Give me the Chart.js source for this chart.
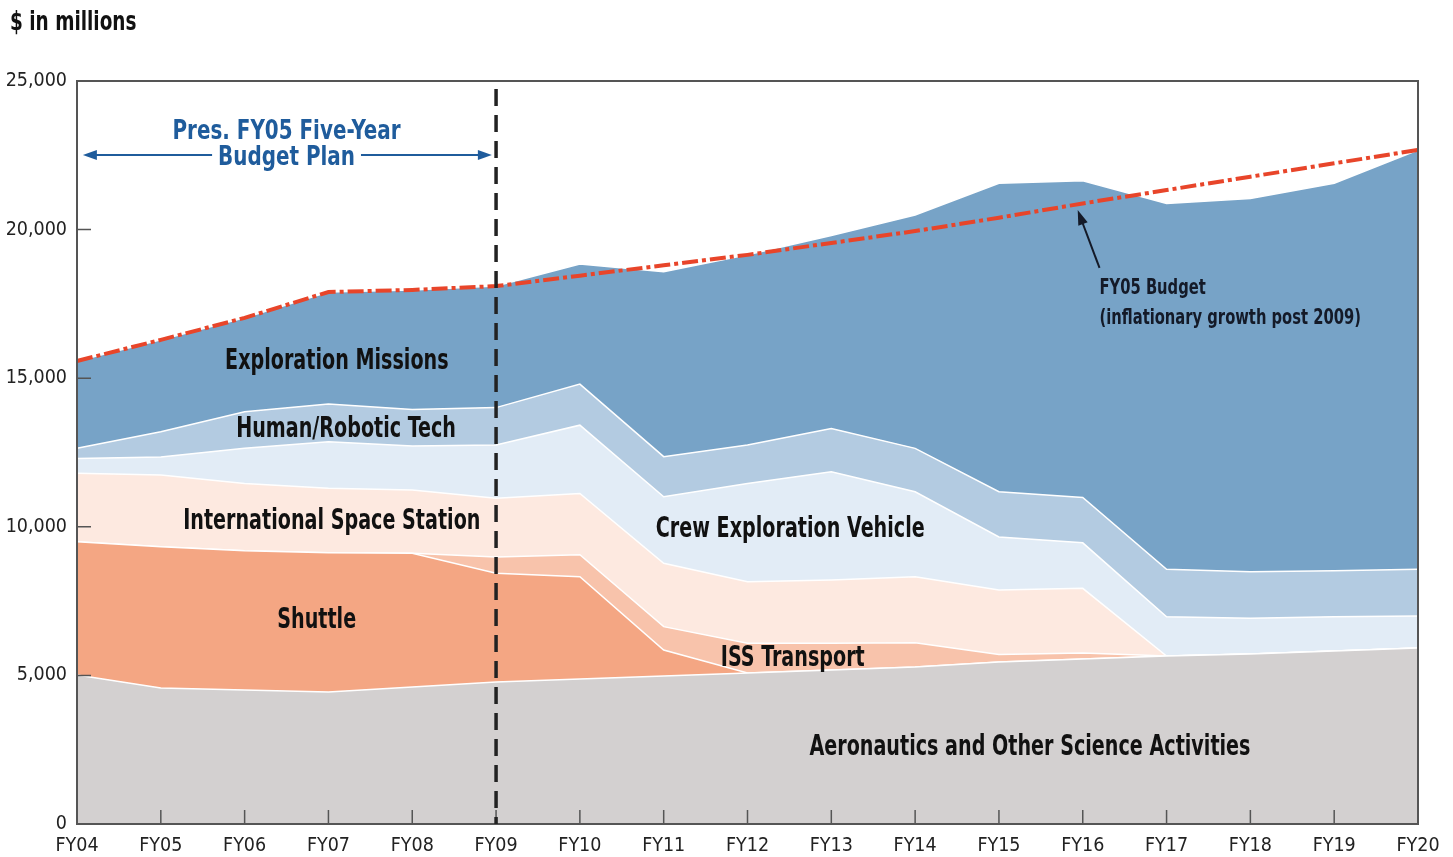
<!DOCTYPE html>
<html>
<head>
<meta charset="utf-8">
<script src="https://cdn.jsdelivr.net/npm/chart.js@4.4.0/dist/chart.umd.min.js"></script>
<style>
  html, body { margin: 0; padding: 0; background: #fff; }
  #wrap { position: relative; width: 1453px; height: 857px; }
</style>
</head>
<body>
<div id="wrap"><canvas id="chart" width="1453" height="857"></canvas></div>
<script>
const years = ['FY04', 'FY05', 'FY06', 'FY07', 'FY08', 'FY09', 'FY10', 'FY11', 'FY12',
  'FY13', 'FY14', 'FY15', 'FY16', 'FY17', 'FY18', 'FY19', 'FY20'];

// stacked layers, bottom to top ($ in millions)
const aeronautics = [5010, 4580, 4510, 4440, 4610, 4780, 4880, 4980, 5080, 5180, 5280, 5450, 5550, 5650, 5720, 5820, 5920];
const shuttle     = [4490, 4750, 4680, 4690, 4500, 3660, 3440, 875, 0, 0, 0, 0, 0, 0, 0, 0, 0];
const issTransport = [0, 0, 0, 0, 0, 540, 740, 785, 1000, 900, 820, 250, 200, 0, 0, 0, 0];
const spaceStation = [2300, 2410, 2270, 2170, 2130, 1980, 2060, 2130, 2070, 2130, 2220, 2170, 2180, 0, 0, 0, 0];
const crewVehicle = [500, 610, 1180, 1560, 1480, 1790, 2300, 2240, 3310, 3640, 2860, 1790, 1530, 1325, 1200, 1155, 1080];
const humanRobotic = [340, 850, 1230, 1270, 1230, 1260, 1380, 1350, 1290, 1460, 1460, 1520, 1530, 1595, 1570, 1545, 1570];
const exploration = [2940, 3090, 3160, 3770, 4020, 4090, 4040, 6220, 6400, 6490, 7850, 10380, 10650, 12310, 12560, 13040, 14110];

// FY05 budget (inflationary growth post 2009)
const fy05Budget = [15580, 16290, 17030, 17900, 17970, 18100, 18450, 18800, 19150, 19550, 19950, 20400, 20880, 21330, 21780, 22230, 22680];

const yTicks = [0, 5000, 10000, 15000, 20000, 25000];

const NARROW = '"Liberation Sans Narrow", "Arial Narrow", "DejaVu Sans Condensed", sans-serif';
Chart.defaults.font.family = NARROW;

function area(label, data, color, fill) {
  return {
    label, data, fill,
    backgroundColor: color,
    borderColor: '#ffffff',
    borderWidth: 1.5,
    pointRadius: 0,
    tension: 0
  };
}

// text labels placed in data space: [text, x index, y value]
const areaLabels = [
  ['Exploration Missions', 3.1, 15560],
  ['Human/Robotic Tech', 3.21, 13270],
  ['International Space Station', 3.04, 10180],
  ['Shuttle', 2.86, 6850],
  ['Crew Exploration Vehicle', 8.51, 9910],
  ['ISS Transport', 8.54, 5570],
  ['Aeronautics and Other Science Activities', 11.37, 2570]
];

// the original face is a condensed grotesque; squeeze the fallback font sideways
function squeeze(ctx, text, x, y, sx) {
  ctx.save();
  ctx.translate(x, y);
  ctx.scale(sx, 1);
  ctx.fillText(text, 0, 0);
  ctx.restore();
}

function arrowHead(ctx, x1, y1, x2, y2, len, half) {
  const ang = Math.atan2(y2 - y1, x2 - x1);
  ctx.beginPath();
  ctx.moveTo(x2, y2);
  ctx.lineTo(x2 - len * Math.cos(ang) + half * Math.sin(ang), y2 - len * Math.sin(ang) - half * Math.cos(ang));
  ctx.lineTo(x2 - len * Math.cos(ang) - half * Math.sin(ang), y2 - len * Math.sin(ang) + half * Math.cos(ang));
  ctx.closePath();
  ctx.fill();
}

const overlay = {
  id: 'overlay',
  afterDatasetsDraw(chart) {
    const { ctx, chartArea: a, scales: { x, y } } = chart;
    const px = i => x.getPixelForValue(i);
    const py = v => y.getPixelForValue(v);
    ctx.save();

    // inner tick marks
    ctx.strokeStyle = '#555';
    ctx.lineWidth = 1.5;
    ctx.beginPath();
    years.forEach((_, i) => {
      if (i > 0 && i < years.length - 1) {
        ctx.moveTo(px(i), a.bottom);
        ctx.lineTo(px(i), a.bottom - 14);
      }
    });
    yTicks.forEach(v => {
      if (v > 0 && v < 25000) {
        ctx.moveTo(a.left, py(v));
        ctx.lineTo(a.left + 14, py(v));
      }
    });
    ctx.stroke();

    // frame
    ctx.lineWidth = 2;
    ctx.strokeRect(a.left, a.top, a.right - a.left, a.bottom - a.top);

    // five-year plan boundary
    ctx.strokeStyle = '#222';
    ctx.lineWidth = 3.5;
    ctx.setLineDash([17, 9]);
    ctx.beginPath();
    ctx.moveTo(px(5), a.top + 8);
    ctx.lineTo(px(5), a.bottom);
    ctx.stroke();
    ctx.setLineDash([]);

    // area labels
    ctx.fillStyle = '#111';
    ctx.font = 'bold 28px ' + NARROW;
    ctx.textAlign = 'center';
    ctx.textBaseline = 'middle';
    areaLabels.forEach(([t, i, v]) => squeeze(ctx, t, px(i), py(v), 0.76));

    // budget plan banner
    ctx.fillStyle = '#1f5c9c';
    ctx.strokeStyle = '#1f5c9c';
    ctx.font = 'bold 27px ' + NARROW;
    const bsx = 0.82;
    const cx = px(2.5);
    squeeze(ctx, 'Pres. FY05 Five-Year', cx, py(23270), bsx);
    squeeze(ctx, 'Budget Plan', cx, py(22400), bsx);
    const w = ctx.measureText('Budget Plan').width * bsx;
    const ay = py(22510);
    const xl = px(0.07), xr = px(4.95);
    ctx.lineWidth = 2;
    ctx.beginPath();
    ctx.moveTo(xl + 6, ay); ctx.lineTo(cx - w / 2 - 6, ay);
    ctx.moveTo(cx + w / 2 + 6, ay); ctx.lineTo(xr - 6, ay);
    ctx.stroke();
    arrowHead(ctx, xl + 20, ay, xl, ay, 14, 5);
    arrowHead(ctx, xr - 20, ay, xr, ay, 14, 5);

    // FY05 budget note
    ctx.fillStyle = '#141a28';
    ctx.strokeStyle = '#141a28';
    ctx.font = 'bold 21px ' + NARROW;
    ctx.textAlign = 'left';
    squeeze(ctx, 'FY05 Budget', px(12.2), py(18000), 0.78);
    squeeze(ctx, '(inflationary growth post 2009)', px(12.2), py(17000), 0.78);
    const x1 = px(12.2), y1 = py(18710), x2 = px(11.94), y2 = py(20660);
    ctx.lineWidth = 2;
    ctx.beginPath();
    ctx.moveTo(x1, y1); ctx.lineTo(x2 + 3, y2 + 8);
    ctx.stroke();
    arrowHead(ctx, x1, y1, x2, y2, 15, 5);

    ctx.restore();
  }
};

const headline = {
  id: 'headline',
  afterDraw(chart) {
    const { ctx } = chart;
    ctx.save();
    ctx.fillStyle = '#111';
    ctx.font = 'bold 27px ' + NARROW;
    ctx.textAlign = 'left';
    ctx.textBaseline = 'middle';
    squeeze(ctx, '$ in millions', 10, 23, 0.76);
    ctx.restore();
  }
};

new Chart(document.getElementById('chart'), {
  type: 'line',
  data: {
    labels: years,
    datasets: [
      area('Aeronautics and Other Science Activities', aeronautics, '#d3d0d0', 'origin'),
      area('Shuttle', shuttle, '#f4a683', '-1'),
      area('ISS Transport', issTransport, '#f8c3ab', '-1'),
      area('International Space Station', spaceStation, '#fde9e0', '-1'),
      area('Crew Exploration Vehicle', crewVehicle, '#e2ecf6', '-1'),
      area('Human/Robotic Tech', humanRobotic, '#b3cbe1', '-1'),
      area('Exploration Missions', exploration, '#77a3c7', '-1'),
      {
        label: 'FY05 Budget',
        data: fy05Budget,
        stack: 'budget',
        fill: false,
        borderColor: '#e8452a',
        borderWidth: 4,
        borderDash: [16, 4, 4, 4],
        pointRadius: 0,
        tension: 0,
        order: -1
      }
    ]
  },
  options: {
    responsive: false,
    animation: false,
    layout: { padding: { top: 81, right: 35, left: 0, bottom: 0 } },
    plugins: {
      legend: { display: false },
      tooltip: { enabled: false }
    },
    scales: {
      x: {
        offset: false,
        grid: { display: false, drawTicks: false },
        border: { display: true, color: '#555', width: 2 },
        ticks: { color: '#222', font: { size: 19.5 }, padding: 10, maxRotation: 0, autoSkip: false },
        afterFit: s => { s.height = 33; }
      },
      y: {
        stacked: true,
        min: 0,
        max: 25000,
        grid: { display: false, drawTicks: false },
        border: { display: true, color: '#555', width: 2 },
        afterBuildTicks: s => { s.ticks = yTicks.map(v => ({ value: v })); },
        ticks: {
          color: '#222',
          font: { size: 19.5 },
          padding: 10,
          callback: v => v.toLocaleString('en-US')
        },
        afterFit: s => { s.width = 77; }
      }
    }
  },
  plugins: [overlay, headline]
});
</script>
</body>
</html>
